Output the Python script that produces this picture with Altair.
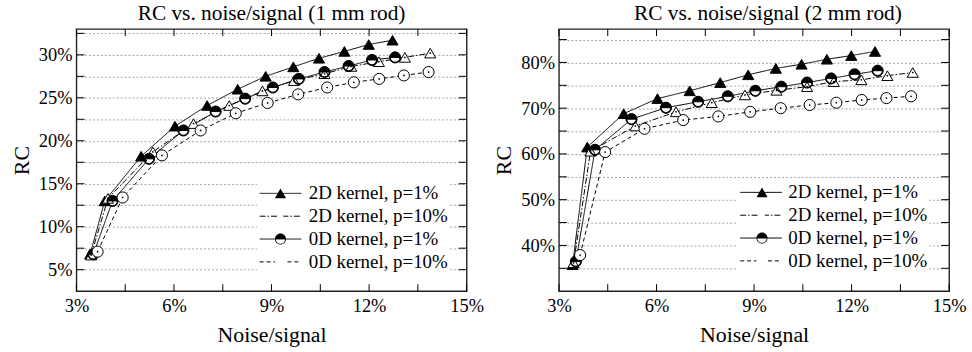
import altair as alt
import pandas as pd

FONT = "Liberation Serif"

series_labels = ["2D kernel, p=1%", "2D kernel, p=10%", "0D kernel, p=1%", "0D kernel, p=10%"]
marker_keys = ["m1", "m2", "m3", "m4"]

# Noise/signal (%) per series
x_2d_p1 = [3.42, 3.87, 4.99, 6.03, 7.02, 7.96, 8.82, 9.67, 10.46, 11.24, 11.99, 12.72]
x_2d_p10 = [3.45, 3.97, 5.35, 6.60, 7.70, 8.72, 9.69, 10.63, 11.45, 12.30, 13.10, 13.88]
x_0d_p1 = [3.52, 4.11, 5.23, 6.29, 7.28, 8.19, 9.04, 9.84, 10.63, 11.37, 12.09, 12.80]
x_0d_p10 = [3.65, 4.42, 5.63, 6.82, 7.90, 8.88, 9.82, 10.71, 11.53, 12.31, 13.07, 13.83]

# RC (%) for the 1 mm rod
rc1_2d_p1 = [6.8, 13.0, 18.2, 21.7, 24.1, 26.0, 27.5, 28.6, 29.6, 30.4, 31.2, 31.7]
rc1_2d_p10 = [6.7, 13.3, 18.7, 22.0, 24.1, 25.8, 27.0, 27.8, 28.65, 29.2, 29.7, 30.2]
rc1_0d_p1 = [6.8, 13.0, 17.9, 21.2, 23.4, 24.9, 26.2, 27.2, 28.0, 28.7, 29.4, 29.7]
rc1_0d_p10 = [7.1, 13.4, 18.3, 21.2, 23.2, 24.4, 25.4, 26.2, 26.8, 27.2, 27.6, 28.0]

# RC (%) for the 2 mm rod
rc2_2d_p1 = [35.8, 61.5, 68.8, 72.1, 73.8, 75.6, 77.3, 78.7, 79.6, 80.7, 81.5, 82.4]
rc2_2d_p10 = [36.2, 60.6, 66.1, 69.2, 71.2, 72.9, 73.9, 74.7, 75.8, 76.2, 77.1, 77.8]
rc2_0d_p1 = [36.5, 60.9, 67.6, 70.1, 71.4, 72.6, 73.8, 74.7, 75.6, 76.5, 77.4, 78.2]
rc2_0d_p10 = [37.9, 60.4, 65.5, 67.4, 68.2, 69.2, 70.0, 70.7, 71.2, 71.8, 72.2, 72.6]

x_ticks = [3, 4.5, 6, 7.5, 9, 10.5, 12, 13.5, 15]
x_labels = [3, 6, 9, 12, 15]
y1_ticks = [5, 7.5, 10, 12.5, 15, 17.5, 20, 22.5, 25, 27.5, 30, 32.5]
y2_ticks = [35, 40, 45, 50, 55, 60, 65, 70, 75, 80, 85]

W, H = 393, 264
HALF = ("M-1,0A1,1 0 0,1 1,0Z "
        "M1,0A1,1 0 0,1 -1,0L-0.86,0A0.86,0.86 0 0,0 0.86,0Z")


def long_df(ys_list):
    rows = []
    for lab, key, xs, ys in zip(series_labels, marker_keys,
                                [x_2d_p1, x_2d_p10, x_0d_p1, x_0d_p10], ys_list):
        for x, y in zip(xs, ys):
            rows.append({"ns": x, "rc": y, "series": lab, "mk": key})
    return pd.DataFrame(rows)


def panel(df, title, ydom, yticks, label_cond, legx_a, legx_b, legy, label_off, title_dx):
    xs = alt.Scale(domain=[3, 15], nice=False, zero=False)
    ys = alt.Scale(domain=ydom, nice=False, zero=False)
    xaxis = alt.Axis(
        values=x_labels, labelExpr="datum.value + '%'", title="Noise/signal",
        grid=False, ticks=False, domain=False, labelPadding=5, titlePadding=10,
        labelFlush=False)
    yaxis = alt.Axis(
        values=yticks, labelExpr=f"({label_cond}) ? datum.value + '%' : ''",
        title="RC", grid=True, ticks=False, domain=False,
        labelPadding=4.5, titlePadding=5)
    X = alt.X("ns:Q", scale=xs, axis=xaxis)
    Y = alt.Y("rc:Q", scale=ys, axis=yaxis)

    base = alt.Chart(df)
    leg_a = alt.Legend(title=None, orient="none", legendX=legx_a, legendY=legy,
                       fillColor="white", padding=2, symbolType="stroke",
                       symbolSize=1764, symbolStrokeWidth=1, symbolStrokeColor="black",
                       clipHeight=23, rowPadding=0, labelFont=FONT, labelFontSize=19,
                       labelColor="black", labelOffset=label_off, labelLimit=400)
    leg_b = alt.Legend(title=None, orient="none", legendX=legx_b, legendY=legy,
                       padding=2, symbolSize=125, symbolStrokeWidth=1,
                       symbolStrokeColor="black", clipHeight=23, rowPadding=0,
                       labelExpr="''", labelFontSize=10, symbolOpacity=1)
    lines = base.mark_line(color="black", strokeWidth=1).encode(
        X, Y,
        strokeDash=alt.StrokeDash("series:N", scale=alt.Scale(
            domain=series_labels, range=[[1, 0], [6, 2, 1.5, 2], [1, 0], [4, 3]]),
            legend=leg_a),
        order="ns:Q")
    under = base.transform_filter(alt.datum.mk == "m3").mark_point(
        shape="circle", filled=True, fill="white", size=125, opacity=1).encode(X, Y)
    pts = base.mark_point(filled=True, stroke="black", strokeWidth=1, size=125,
                          opacity=1).encode(
        X, Y,
        shape=alt.Shape("mk:N", scale=alt.Scale(
            domain=marker_keys, range=["triangle-up", "triangle-up", HALF, "circle"]),
            legend=leg_b),
        fill=alt.Fill("mk:N", scale=alt.Scale(
            domain=marker_keys, range=["black", "white", "black", "white"]),
            legend=leg_b))
    dots = base.transform_filter(
        (alt.datum.mk == "m2") | (alt.datum.mk == "m4")).mark_point(
        shape="circle", filled=True, fill="black", size=3, opacity=1).encode(X, Y)

    xt = alt.Chart(pd.DataFrame({"ns": x_ticks}))
    tb = xt.mark_rule(color="black", strokeWidth=1).encode(
        X, y=alt.value(H), y2=alt.value(H - 7))
    tt = xt.mark_rule(color="black", strokeWidth=1).encode(
        X, y=alt.value(0), y2=alt.value(7))
    yt = alt.Chart(pd.DataFrame({"rc": yticks}))
    tl = yt.mark_rule(color="black", strokeWidth=1).encode(
        Y, x=alt.value(0), x2=alt.value(8))
    tr = yt.mark_rule(color="black", strokeWidth=1).encode(
        Y, x=alt.value(W - 8), x2=alt.value(W))

    return alt.layer(lines, under, pts, dots, tb, tt, tl, tr).properties(
        width=W, height=H,
        title=alt.TitleParams(title, dx=title_dx))


left = panel(long_df([rc1_2d_p1, rc1_2d_p10, rc1_0d_p1, rc1_0d_p10]),
             "RC vs. noise/signal (1 mm rod)", [2.5, 33], y1_ticks,
             "datum.value % 5 == 0", 182, 197, 152, 7, 0)
right = panel(long_df([rc2_2d_p1, rc2_2d_p10, rc2_0d_p1, rc2_0d_p10]),
              "RC vs. noise/signal (2 mm rod)", [30, 87.3], y2_ticks,
              "datum.value % 10 == 0 && datum.value >= 40", 180, 196, 151, 6, 14)

chart = alt.hconcat(left, right, spacing=93, bounds="flush").resolve_scale(
    x="independent", y="independent", shape="independent", fill="independent",
    strokeDash="independent"
).properties(padding={"left": 9, "top": 1, "right": 5, "bottom": 2}).configure(
    background="white", font=FONT
).configure_view(
    stroke="#222", strokeWidth=1.4
).configure_axis(
    labelFont=FONT, labelFontSize=18.5, labelColor="black",
    titleFont=FONT, titleFontSize=22, titleFontWeight="normal", titleColor="black",
    gridColor="#999", gridDash=[2, 2], gridWidth=0.9
).configure_title(
    font=FONT, fontSize=21.5, fontWeight="normal", color="black", offset=4
)

chart.save("out.html", embed_options={"renderer": "svg", "actions": False})
